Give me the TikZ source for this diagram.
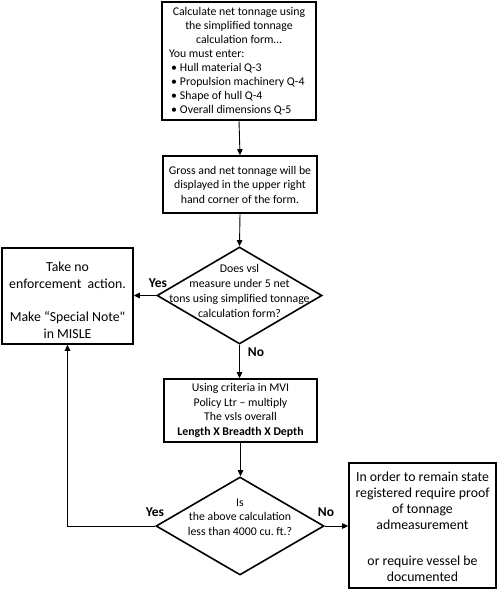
\documentclass[tikz,border=0pt]{standalone}
\usepackage{fontspec}
\setmainfont{Carlito}
\newfontfamily\plainq{Carlito}[Ligatures=TeXOff]
\usetikzlibrary{shapes.geometric,arrows.meta}
\frenchspacing
\begin{document}
\begin{tikzpicture}[x=1pt,y=-1pt,
  box/.style={draw,line width=1.6pt,inner sep=0pt,align=center},
  dia/.style={draw,diamond,line width=1.6pt,inner sep=0pt},
  conn/.style={line width=0.9pt,-{Triangle[length=6pt,width=5.5pt]}},
  lbl/.style={font=\fontsize{13.5}{15}\selectfont\bfseries,inner sep=0pt},
  txt/.style={font=\fontsize{11.8}{14.5}\selectfont,align=center,inner sep=0pt}]
\useasboundingbox (0,0) rectangle (499,597);
% boxes
\node[box,minimum width=154pt,minimum height=118pt] (b1) at (239,61)
  {\begin{minipage}{140pt}\fontsize{11.8}{14}\selectfont\frenchspacing
   \centering Calculate net tonnage using\\ the simplified tonnage\\ calculation form…\par
   \raggedright You must enter:\\
   \makebox[11pt][l]{\hspace{2pt}•}Hull material Q-3\\
   \makebox[11pt][l]{\hspace{2pt}•}Propulsion machinery Q-4\\
   \makebox[11pt][l]{\hspace{2pt}•}Shape of hull Q-4\\
   \makebox[11pt][l]{\hspace{2pt}•}Overall dimensions Q-5\par
   \end{minipage}};
\node[box,txt,minimum width=154pt,minimum height=57pt] (b2) at (240,184.5)
  {Gross and net tonnage will be\\ displayed in the upper right\\ hand corner of the form.};
\node[dia,minimum width=165pt,minimum height=97pt] (d1) at (239.5,295.5) {};
\node[txt,font=\fontsize{11.8}{15}\selectfont] (d1t) at (239.5,291)
  {Does vsl\\ measure under 5 net\\ tons using simplified tonnage\\ calculation form?};
\node[box,minimum width=131pt,minimum height=96pt] (lb) at (67.5,296) {};
\node[txt,font=\fontsize{13.8}{17}\selectfont] (lbt) at (67.5,300)
  {Take no\\ enforcement\ \ action.\\[16pt] Make “Special Note{\plainq"}\\ in MISLE};
\node[box,txt,minimum width=153pt,minimum height=63pt] (b3) at (240.5,410.5)
  {Using criteria in MVI\\ Policy Ltr – multiply\\ The vsls overall\\ \textbf{Length X Breadth X Depth}};
\node[dia,minimum width=168pt,minimum height=98pt] (d2) at (240,526) {};
\node[txt] (d2t) at (240,517)
  {Is\\ the above calculation\\ less than 4000 cu. ft.?};
\node[box,minimum width=147pt,minimum height=125pt] (b4) at (422.5,525.5) {};
\node[txt,font=\fontsize{13.8}{16.2}\selectfont] (b4t) at (422.5,526.5)
  {In order to remain state\\ registered require proof\\ of tonnage\\ admeasurement\\[19pt] or require vessel be\\ documented};
% labels
\node[lbl] (y1) at (158,283) {Yes};
\node[lbl] (n1) at (256,352) {No};
\node[lbl] (y2) at (155,512) {Yes};
\node[lbl] (n2) at (326,512) {No};
% connectors
\draw[conn] (b1.south) -- (b2.north);
\draw[conn] (b2.south) -- (d1.north);
\draw[conn] (d1.west) -- (lb.east |- d1.west);
\draw[conn] (d1.south) -- (b3.north -| d1.south);
\draw[conn] (b3.south) -- (d2.north -| b3.south);
\draw[conn] (d2.west) -| (lb.south);
\draw[conn] (d2.east) -- (b4.west |- d2.east);
\end{tikzpicture}
\end{document}
